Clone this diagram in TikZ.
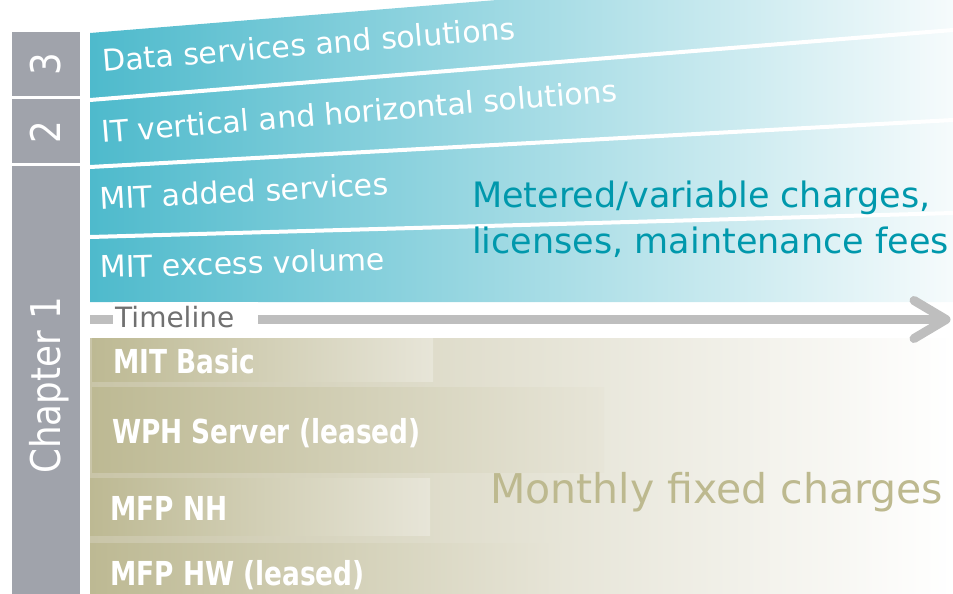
\documentclass[tikz,border=0pt]{standalone}
\usepackage{fontspec}
\setmainfont{DejaVu Sans}
\newfontfamily\narrowfont[FakeStretch=0.87]{DejaVu Sans}
\newfontfamily\barfont[FakeStretch=0.8]{DejaVu Sans}
\usetikzlibrary{positioning}

\definecolor{tealleft}{RGB}{78,186,204}
\definecolor{tealright}{RGB}{246,251,252}
\definecolor{tealtext}{RGB}{0,152,172}
\definecolor{chapgray}{RGB}{160,163,171}
\definecolor{beige}{RGB}{189,185,147}
\definecolor{beigebg}{RGB}{201,197,168}
\definecolor{beigeend}{RGB}{231,229,216}
\definecolor{beigetext}{RGB}{189,185,143}
\definecolor{linegray}{RGB}{190,190,190}
\definecolor{timegray}{RGB}{112,112,112}

\begin{document}
\begin{tikzpicture}[x=1pt,y=-1pt,
            chap/.style = {fill=chapgray},
            chaptext/.style = {text=white,rotate=90,anchor=base,inner sep=0pt,
                font=\narrowfont\fontsize{41}{48}\selectfont},
            sep/.style = {draw=white,line width=4pt},
            band/.style = {text=white,anchor=base west,inner sep=0pt,
                font=\fontsize{30}{36}\selectfont},
            bigtext/.style = {anchor=base west,inner sep=0pt},
            bar/.style = {left color=beige,right color=beigeend},
            bartext/.style = {text=white,anchor=base west,inner sep=0pt,
                font=\barfont\bfseries\fontsize{33}{38}\selectfont},
            timeline/.style = {draw=linegray,line width=9pt,line cap=round,line join=round}]
            \useasboundingbox (0,0) rectangle (953,594);
            % variable part
            \shade[left color=tealleft,right color=tealright]
                (90,33) -- (953,-37) -- (953,302) -- (90,302) -- cycle;
            \draw[sep] (90,100) -- (953,30);
            \draw[sep] (90,167) -- (953,120);
            \draw[sep] (90,237) -- (953,213);
            \node[band,rotate=4.6] (data) at (103,72) {Data services and solutions};
            \node[band,rotate=4.6] (itsol) at (102,143) {IT vertical and horizontal solutions};
            \node[band,rotate=3.1] (added) at (100,210) {MIT added services};
            \node[band,rotate=1.6] (excess) at (100,278) {MIT excess volume};
            \node[bigtext,text=tealtext,font=\fontsize{35}{46}\selectfont]
                (metered) at (472,207) {Metered/variable charges,};
            \node[bigtext,text=tealtext,font=\fontsize{35}{46}\selectfont,
                below=46pt of metered.base west,anchor=base west] (licenses) {licenses, maintenance fees};
            % fixed part
            \fill[left color=beigebg,right color=white] (90,338) rectangle (953,594);
            \fill[bar] (92,338) rectangle (433,381);
            \fill[bar] (92,387) rectangle (604,472);
            \fill[bar] (90,478) rectangle (430,535);
            \fill[bar] (90,543) rectangle (565,594);
            \node[bartext] (basic) at (113,373) {MIT Basic};
            \node[bartext] (server) at (112,443) {WPH Server (leased)};
            \node[bartext] (mfpnh) at (110,520) {MFP NH};
            \node[bartext] (mfphw) at (110,585) {MFP HW (leased)};
            \node[bigtext,text=beigetext,font=\fontsize{41}{48}\selectfont]
                (monthly) at (490,503) {Monthly fixed charges};
            % timeline
            \coordinate (tlstart) at (90,319.5);
            \coordinate (tlend) at (946,319.5);
            \draw[timeline,line cap=butt] (tlstart) -- (tlend);
            \draw[timeline] ([xshift=-32pt,yshift=19pt]tlend) -- (tlend) -- ([xshift=-32pt,yshift=-19pt]tlend);
            \node[anchor=base west,fill=white,inner xsep=2pt,inner ysep=3pt,
                text height=22pt,text depth=8pt,text width=141pt,align=left,
                text=timegray,font=\fontsize{28}{34}\selectfont] (tl) at (113,327) {Timeline};
            % chapters
            \fill[chap] (12,32) rectangle (80,96);
            \fill[chap] (12,99) rectangle (80,163);
            \fill[chap] (12,166) rectangle (80,594);
            \node[chaptext] (ch3) at (60,64) {3};
            \node[chaptext] (ch2) at (60,132) {2};
            \node[chaptext] (ch1) at (60,385.5) {Chapter 1};
        \end{tikzpicture}
\end{document}
